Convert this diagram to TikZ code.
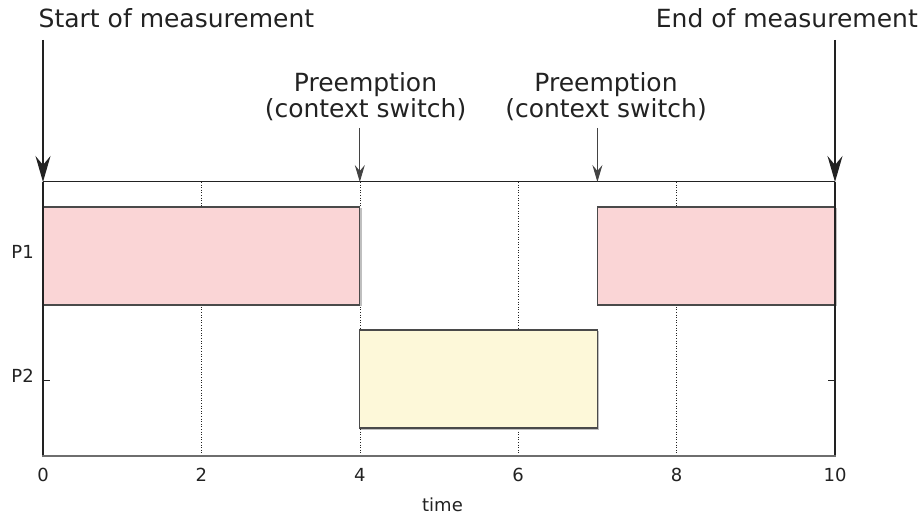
\documentclass[tikz,border=0pt]{standalone}
\usepackage{fontspec}
\setmainfont{DejaVu Sans}
\usetikzlibrary{arrows.meta}
\definecolor{ink}{HTML}{222222}
\definecolor{axisgray}{HTML}{6E6E6E}
\definecolor{runpink}{HTML}{FAD5D6}
\definecolor{runyellow}{HTML}{FDF8D9}
\definecolor{boxedge}{HTML}{4A4A4A}
\tikzset{
  bigtext/.style={font=\fontsize{25}{30}\selectfont, inner sep=0pt, text=ink},
  smalltext/.style={font=\fontsize{18}{22}\selectfont, inner sep=0pt, text=ink},
  frameline/.style={draw=ink, line width=1.3pt},
  gridline/.style={draw=ink, line width=0.6pt, dotted},
  runbox/.style={draw=boxedge, line width=1.1pt},
  boxshadow/.style={fill=black!25},
  bigarrow/.style={draw=ink, line width=1.5pt, -{Stealth[length=26pt,width=15pt,inset=9pt]}},
  smallarrow/.style={draw=ink!85, line width=1pt, -{Stealth[length=17pt,width=10pt,inset=6pt]}},
}
\begin{document}
\begin{tikzpicture}[x=1pt,y=-1pt]
\useasboundingbox (0,0) rectangle (923,518);

% plot frame corners (t = 0 at x = 43, 79.2 per time unit)
\coordinate (f0) at (43,182);
\coordinate (f10) at (835,182);
\coordinate (f4) at (359.8,182);
\coordinate (f7) at (597.4,182);

% dotted vertical grid
\foreach \gx in {201.4,359.8,518.2,676.6}
  \draw[gridline] (\gx,182) -- (\gx,456);

% y ticks
\foreach \ty in {256,380} {
  \draw[draw=ink, line width=1pt] (43,\ty) -- (50,\ty);
  \draw[draw=ink, line width=1pt] (828,\ty) -- (835,\ty);
}

% execution slices
\fill[boxshadow] (44.5,208.5) rectangle (361.5,306.5);
\filldraw[runbox, fill=runpink] (43,207) rectangle (359.8,305);
\fill[boxshadow] (599,208.5) rectangle (836.5,306.5);
\filldraw[runbox, fill=runpink] (597.4,207) rectangle (835,305);
\fill[boxshadow] (361.3,331.5) rectangle (599,429.5);
\filldraw[runbox, fill=runyellow] (359.8,330) rectangle (597.4,428);

% frame
\draw[draw=ink, line width=1pt] (43,182) -- (835,182);
\draw[draw=ink, line width=1.6pt] (43,182) -- (43,456);
\draw[draw=ink, line width=1.4pt] (835,182) -- (835,456);
\draw[draw=axisgray, line width=2pt] (42.2,456) -- (835.8,456);

% axis labels
\node[smalltext, anchor=east] (p1) at (34,252) {P1};
\node[smalltext, anchor=east] (p2) at (34,376) {P2};
\foreach \k/\lab in {0/0,1/2,2/4,3/6,4/8,5/10}
  \node[smalltext] (x\lab) at ({43+158.4*\k},475) {\lab};
\node[smalltext] (tlabel) at (442.5,505) {time};

% annotations
\node[bigtext, anchor=base west] (start) at (38.5,28) {Start of measurement};
\node[bigtext, anchor=base east] (stop) at (918,28) {End of measurement};
\node[bigtext, anchor=base] (pa1) at (365.5,92) {Preemption};
\node[bigtext, anchor=base] (pa2) at (365.5,118) {(context switch)};
\node[bigtext, anchor=base] (pb1) at (606,92) {Preemption};
\node[bigtext, anchor=base] (pb2) at (606,118) {(context switch)};

\coordinate (s0) at (43,40);
\coordinate (s10) at (835,40);
\coordinate (s4) at (359.8,128);
\coordinate (s7) at (597.4,128);
\draw[bigarrow] (s0) -- (f0);
\draw[bigarrow] (s10) -- (f10);
\draw[smallarrow] (s4) -- (f4);
\draw[smallarrow] (s7) -- (f7);
\end{tikzpicture}
\end{document}
